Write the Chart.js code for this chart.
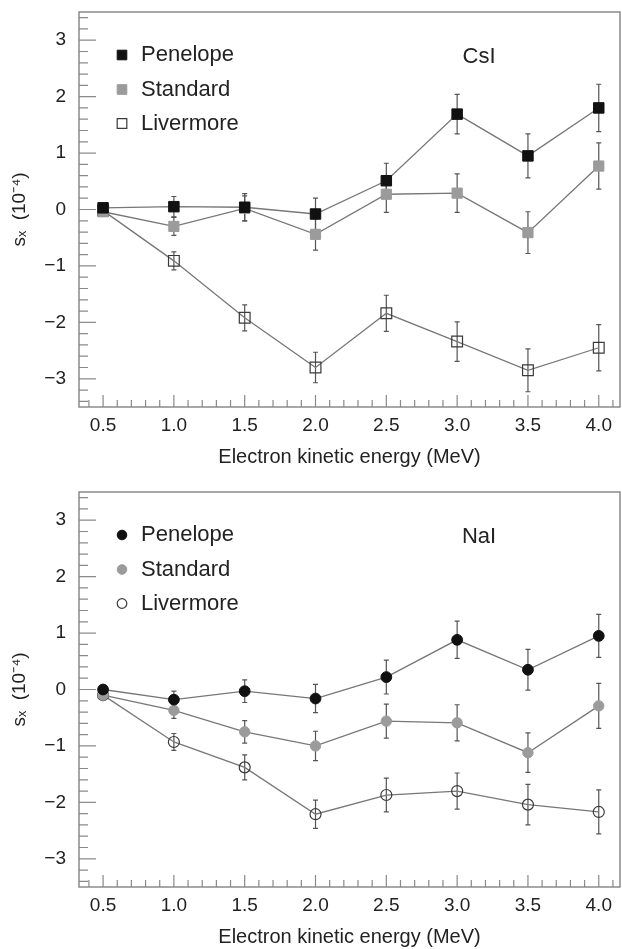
<!DOCTYPE html>
<html>
<head>
<meta charset="utf-8">
<title>s_X vs electron kinetic energy - CsI and NaI</title>
<script src="https://cdn.jsdelivr.net/npm/chart.js"></script>
<style>
  body { margin: 0; background: #fff; }
  .panel { position: absolute; left: 0; width: 622px; height: 469px; }
</style>
</head>
<body>
<div class="panel" style="top:0"><canvas id="csiChart" width="622" height="469"></canvas></div>
<div class="panel" style="top:480px"><canvas id="naiChart" width="622" height="469"></canvas></div>

<script>
// energies (MeV) and axis ticks
const energies = [0.5, 1.0, 1.5, 2.0, 2.5, 3.0, 3.5, 4.0];
const xTickLabels = ['0.5', '1.0', '1.5', '2.0', '2.5', '3.0', '3.5', '4.0'];
const yTickValues = [-3, -2, -1, 0, 1, 2, 3];
const seriesNames = ['Penelope', 'Standard', 'Livermore'];

// CsI, s_X in units of 1e-4
const csiPenelope = [0.03, 0.05, 0.04, -0.08, 0.51, 1.69, 0.95, 1.80];
const csiPenelopeErr = [0.05, 0.18, 0.24, 0.28, 0.31, 0.35, 0.39, 0.42];
const csiStandard = [-0.04, -0.30, 0.02, -0.44, 0.27, 0.29, -0.41, 0.77];
const csiStandardErr = [0.05, 0.16, 0.22, 0.28, 0.32, 0.34, 0.37, 0.41];
const csiLivermore = [-0.02, -0.91, -1.92, -2.80, -1.84, -2.34, -2.85, -2.45];
const csiLivermoreErr = [0.05, 0.16, 0.23, 0.27, 0.32, 0.35, 0.38, 0.41];

// NaI
const naiPenelope = [0.0, -0.18, -0.03, -0.16, 0.22, 0.88, 0.35, 0.95];
const naiPenelopeErr = [0.05, 0.15, 0.20, 0.25, 0.30, 0.33, 0.36, 0.38];
const naiStandard = [-0.10, -0.37, -0.75, -1.00, -0.56, -0.59, -1.12, -0.29];
const naiStandardErr = [0.05, 0.14, 0.20, 0.26, 0.30, 0.32, 0.35, 0.40];
const naiLivermore = [-0.10, -0.93, -1.38, -2.21, -1.87, -1.80, -2.04, -2.17];
const naiLivermoreErr = [0.05, 0.15, 0.22, 0.25, 0.30, 0.32, 0.36, 0.39];

const FONT = '"Liberation Sans", Arial, Helvetica, sans-serif';
const TEXT = '#222';
const FRAME = '#8a8a8a';

// vertical error bars, drawn under lines and markers
const errorBars = {
  id: 'errorBars',
  beforeDatasetsDraw(chart) {
    const { ctx, chartArea: a, scales: { x, y } } = chart;
    ctx.save();
    ctx.beginPath();
    ctx.rect(a.left, a.top, a.right - a.left, a.bottom - a.top);
    ctx.clip();
    ctx.strokeStyle = '#555';
    ctx.lineWidth = 1.2;
    chart.data.datasets.forEach(ds => {
      ds.data.forEach((p, i) => {
        const e = ds.errors[i];
        const px = x.getPixelForValue(p.x);
        const y1 = y.getPixelForValue(p.y + e);
        const y2 = y.getPixelForValue(p.y - e);
        ctx.beginPath();
        ctx.moveTo(px, y1); ctx.lineTo(px, y2);
        ctx.moveTo(px - 2.5, y1); ctx.lineTo(px + 2.5, y1);
        ctx.moveTo(px - 2.5, y2); ctx.lineTo(px + 2.5, y2);
        ctx.stroke();
      });
    });
    ctx.restore();
  }
};

// box frame with inward major/minor ticks
const frameTicks = {
  id: 'frameTicks',
  afterDraw(chart) {
    const { ctx, chartArea: a, scales: { x, y } } = chart;
    ctx.save();
    ctx.strokeStyle = FRAME;
    ctx.lineWidth = 1.5;
    ctx.strokeRect(a.left, a.top, a.right - a.left, a.bottom - a.top);
    ctx.lineWidth = 1.2;
    ctx.beginPath();
    for (let k = 4; k <= 41; k++) {
      const px = x.getPixelForValue(k / 10);
      const len = k % 5 === 0 ? 12 : 7;
      ctx.moveTo(px, a.bottom);
      ctx.lineTo(px, a.bottom - len);
    }
    for (let k = -17; k <= 17; k++) {
      const py = y.getPixelForValue(k / 5);
      const len = k % 5 === 0 ? 17 : 9;
      ctx.moveTo(a.left, py);
      ctx.lineTo(a.left + len, py);
    }
    ctx.stroke();
    ctx.restore();
  }
};

// material label and the legend in the upper-left corner
const panelText = {
  id: 'panelText',
  afterDraw(chart, args, opts) {
    const { ctx, chartArea: a } = chart;
    ctx.save();
    ctx.fillStyle = TEXT;
    ctx.font = '22px ' + FONT;
    ctx.textBaseline = 'middle';
    ctx.textAlign = 'center';
    ctx.fillText(opts.material, a.left + 400, a.top + 44.5);

    ctx.textAlign = 'left';
    const rows = [43, 77.5, 111.5];
    chart.data.datasets.forEach((ds, i) => {
      const cx = a.left + 43, cy = a.top + rows[i];
      ctx.save();
      ctx.fillStyle = ds.pointBackgroundColor;
      ctx.strokeStyle = ds.pointBorderColor;
      ctx.lineWidth = ds.pointBorderWidth;
      Chart.helpers.drawPoint(ctx, {
        pointStyle: ds.pointStyle,
        radius: ds.pointStyle === 'rect' ? 6.8 : 4.8,
        rotation: 0,
        borderWidth: ds.pointBorderWidth
      }, cx, cy);
      ctx.restore();
      ctx.fillText(ds.label, a.left + 62, cy);
    });
    ctx.restore();
  }
};

// fixed axis box sizes; drop the label overhang padding Chart.js adds
function fixX(s) {
  s.height = 62;
  s.paddingLeft = s.paddingRight = 0;
}
function fixY(s) {
  s.width = 79;
  s.paddingTop = s.paddingBottom = 0;
}

function buildDatasets(pointStyle, values, errors) {
  const fills = ['#111111', '#9b9b9b', 'rgba(255,255,255,0)'];
  const borders = ['#111111', '#9b9b9b', '#3a3a3a'];
  const sq = pointStyle === 'rect';
  const radii = sq ? [7.4, 7.2, 7.6] : [5.4, 5.2, 5.5];
  return seriesNames.map((name, i) => ({
    label: name,
    data: energies.map((e, j) => ({ x: e, y: values[i][j] })),
    errors: errors[i],
    borderColor: '#777',
    borderWidth: 1.3,
    tension: 0,
    fill: false,
    pointStyle: pointStyle,
    pointRadius: radii[i],
    pointBackgroundColor: fills[i],
    pointBorderColor: borders[i],
    pointBorderWidth: i === 2 ? 1.2 : 1
  }));
}

function makeChart(canvasId, material, pointStyle, values, errors) {
  return new Chart(document.getElementById(canvasId), {
    type: 'line',
    data: { datasets: buildDatasets(pointStyle, values, errors) },
    plugins: [errorBars, frameTicks, panelText],
    options: {
      responsive: false,
      animation: false,
      devicePixelRatio: 1,
      layout: { autoPadding: false, padding: { top: 12, right: 2, left: 0, bottom: 0 } },
      plugins: {
        legend: { display: false },
        tooltip: { enabled: false },
        panelText: { material: material }
      },
      scales: {
        x: {
          type: 'linear',
          min: 0.33,
          max: 4.15,
          grid: { display: false, drawTicks: false },
          border: { display: false },
          afterFit: fixX,
          afterBuildTicks: s => { s.ticks = energies.map(v => ({ value: v })); },
          ticks: {
            padding: 7,
            color: TEXT,
            font: { family: FONT, size: 19 },
            maxRotation: 0,
            autoSkip: false,
            callback: (v, i) => xTickLabels[i]
          },
          title: {
            display: true,
            text: 'Electron kinetic energy (MeV)',
            color: TEXT,
            font: { family: FONT, size: 20 },
            padding: { top: 0, bottom: 0 }
          }
        },
        y: {
          min: -3.5,
          max: 3.5,
          grid: { display: false, drawTicks: false },
          border: { display: false },
          afterFit: fixY,
          afterBuildTicks: s => { s.ticks = yTickValues.map(v => ({ value: v })); },
          ticks: {
            padding: 13,
            color: TEXT,
            font: { family: FONT, size: 19 },
            callback: v => (v < 0 ? '\u2212' + Math.abs(v) : String(v))
          },
          title: {
            display: true,
            text: 's\u2093  (10\u207B\u2074)',
            color: TEXT,
            font: { family: FONT, size: 19 },
            padding: { top: 8, bottom: 0 }
          }
        }
      }
    }
  });
}

makeChart('csiChart', 'CsI', 'rect',
  [csiPenelope, csiStandard, csiLivermore],
  [csiPenelopeErr, csiStandardErr, csiLivermoreErr]);

makeChart('naiChart', 'NaI', 'circle',
  [naiPenelope, naiStandard, naiLivermore],
  [naiPenelopeErr, naiStandardErr, naiLivermoreErr]);
</script>
</body>
</html>
